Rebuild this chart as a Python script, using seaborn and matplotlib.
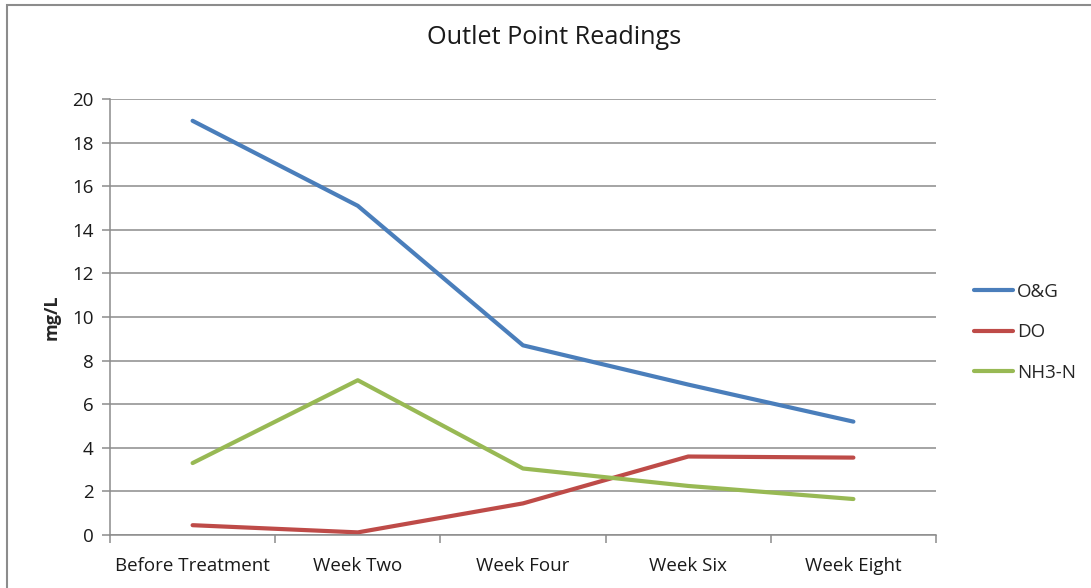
import matplotlib
matplotlib.use('Agg')
import matplotlib.pyplot as plt
import seaborn as sns
import pandas as pd
import numpy as np

# data
weeks = ["Before Treatment", "Week Two", "Week Four", "Week Six", "Week Eight"]
og = [19.0, 15.1, 8.7, 6.9, 5.2]
do = [0.45, 0.12, 1.45, 3.6, 3.55]
nh3n = [3.3, 7.1, 3.05, 2.25, 1.65]
series_names = ["O&G", "DO", "NH3-N"]
colors = ["#4a7ebb", "#be4b48", "#98b954"]

df = pd.DataFrame({"week": weeks, "O&G": og, "DO": do, "NH3-N": nh3n})
long_df = df.melt(id_vars="week", var_name="series", value_name="mg/L")
long_df["pos"] = long_df["week"].map({w: i for i, w in enumerate(weeks)})

sns.set_style("white")
plt.rcParams['font.family'] = ['Open Sans', 'DejaVu Sans']

fig = plt.figure(figsize=(10.91, 5.88), dpi=100)
ax = fig.add_axes([110 / 1091, 1 - 535 / 588, (936 - 110) / 1091, (535 - 99) / 588])

sns.lineplot(data=long_df, x="pos", y="mg/L", hue="series", hue_order=series_names,
             palette=colors, linewidth=3, ax=ax, legend=True)

ax.set_xlim(-0.5, len(weeks) - 0.5)
ax.set_ylim(0, 20)
ax.set_yticks(np.arange(0, 21, 2))
ax.set_xticks(range(len(weeks)))
ax.set_xticklabels(weeks)
ax.set_xticks(np.arange(-0.5, len(weeks)), minor=True)

grid_col = "#8c8c8c"
ax.grid(True, axis='y', color=grid_col, linewidth=1.1)
ax.set_axisbelow(True)
for s in ['top', 'right']:
    ax.spines[s].set_visible(False)
for s in ['left', 'bottom']:
    ax.spines[s].set_color(grid_col)
    ax.spines[s].set_linewidth(1.1)

ax.tick_params(axis='y', which='major', direction='out', length=6, color=grid_col,
               width=1.1, labelsize=13.5, labelcolor='#1a1a1a', pad=6, left=True)
ax.tick_params(axis='x', which='major', length=0, labelsize=13.5, labelcolor='#1a1a1a', pad=16)
ax.tick_params(axis='x', which='minor', direction='out', length=6, color=grid_col,
               width=1.1, bottom=True)

ax.set_xlabel("")
ax.set_ylabel("mg/L", fontsize=13, fontweight='bold', labelpad=8)

fig.suptitle("Outlet Point Readings", x=554 / 1091, y=1 - 37 / 588, va='center',
             fontsize=18.2, color='#1a1a1a')

handles, labels = ax.get_legend_handles_labels()
ax.legend(handles, labels, loc='center left', bbox_to_anchor=(1.025, 0.465),
          frameon=False, fontsize=13.5, handlelength=2.1, handletextpad=0.2,
          labelspacing=1.2)

# outer chart frame
fig.patches.append(plt.Rectangle((7 / 1091, -0.05), 1.2, 1 - 5 / 588 + 0.05,
                                 transform=fig.transFigure, fill=False,
                                 edgecolor='#8c8c8c', linewidth=1.5))

fig.savefig("out.png", dpi=100)
